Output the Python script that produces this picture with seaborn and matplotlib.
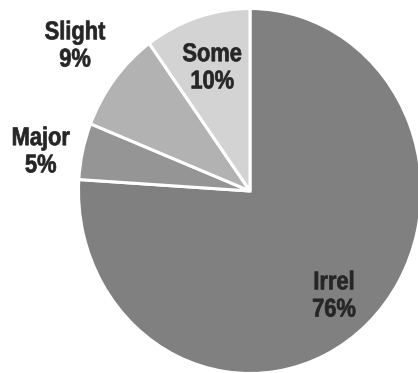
import matplotlib
matplotlib.use("Agg")
import matplotlib.pyplot as plt
from matplotlib.patheffects import AbstractPathEffect
from matplotlib.transforms import Affine2D
import seaborn as sns

# Share of responses by impact level
categories = ["Irrel", "Major", "Slight", "Some"]
shares = [76, 5, 9, 10]
slice_colors = ["#808080", "#959595", "#b2b2b2", "#d3d3d3"]

# Label anchor points (data units, pie radius = 1)
label_xy = [(0.49, -0.575), (-1.22, 0.215), (-1.02, 0.795), (-0.22, 0.675)]


class Condensed(AbstractPathEffect):
    """Draw text narrower and slightly heavier, squeezed about the label's centre."""

    def __init__(self, text, sx=0.85, weight=0.5):
        super().__init__()
        self.text = text
        self.sx = sx
        self.weight = weight

    def draw_path(self, renderer, gc, tpath, affine, rgbFace=None):
        cx = self.text.get_transform().transform(self.text.get_position())[0]
        squeeze = Affine2D().translate(-cx, 0).scale(self.sx, 1).translate(cx, 0)
        gc0 = renderer.new_gc()
        gc0.copy_properties(gc)
        gc0.set_linewidth(self.weight)
        gc0.set_foreground(rgbFace)
        renderer.draw_path(gc0, tpath, affine + squeeze, rgbFace)
        gc0.restore()


sns.set_style("white")
plt.rcParams["font.family"] = ["Liberation Sans", "DejaVu Sans"]

W, H = 418, 373
fig = plt.figure(figsize=(W / 100, H / 100), dpi=100)

cx, cy = 250, 182          # pie centre in pixels from bottom-left
rx, ry = 171.5, 182.5      # horizontal / vertical radius in pixels
ax = fig.add_axes([(cx - rx) / W, (cy - ry) / H, 2 * rx / W, 2 * ry / H])

wedges, _ = ax.pie(
    shares,
    colors=slice_colors,
    startangle=90,
    counterclock=False,
    radius=1,
    wedgeprops=dict(edgecolor="white", linewidth=2.2),
)
for w in wedges:
    w.set_clip_on(False)

ax.set_aspect("auto")
ax.set_xlim(-1, 1)
ax.set_ylim(-1, 1)
ax.axis("off")

for name, value, (x, y) in zip(categories, shares, label_xy):
    t = ax.text(x, y, f"{name}\n{value}%", ha="center", va="center",
                fontsize=18.5, fontweight="bold", color="#262626",
                linespacing=1.17)
    t.set_path_effects([Condensed(t, 0.85, 0.5)])

fig.savefig("out.png", dpi=100, facecolor="white")
